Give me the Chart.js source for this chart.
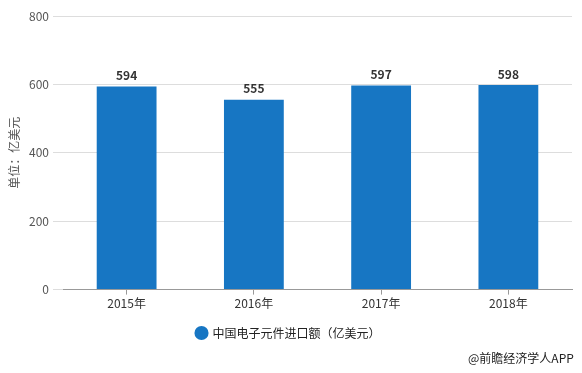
<!DOCTYPE html>
<html><head><meta charset="utf-8">
<script src="https://cdn.jsdelivr.net/npm/chart.js@4/dist/chart.umd.min.js"></script>
<style>
html,body{margin:0;padding:0;background:#fff;}
#wrap{position:relative;width:582px;height:373px;}
#wm{position:absolute;left:468px;top:349px;font:12px "Noto Sans CJK SC",sans-serif;color:#222;white-space:nowrap;}
</style></head>
<body>
<div id="wrap"><canvas id="c" width="582" height="373"></canvas><div id="wm">@前瞻经济学人APP</div></div>
<script>
const categories = ["2015年","2016年","2017年","2018年"];
const importValues = [594,555,597,598];
const seriesName = "中国电子元件进口额（亿美元）";
const yTitle = "单位：亿美元";
const FONT = '"Noto Sans CJK SC", "Noto Sans", sans-serif';

const valueLabels = {
  id:'valueLabels',
  afterDatasetsDraw(chart){
    const ctx = chart.ctx;
    const meta = chart.getDatasetMeta(0);
    ctx.save();
    ctx.font = 'bold 12px ' + FONT;
    ctx.fillStyle = '#333';
    ctx.textAlign = 'center';
    ctx.textBaseline = 'bottom';
    meta.data.forEach((bar,i)=>{
      ctx.fillText(String(chart.data.datasets[0].data[i]), bar.x, bar.y - 5);
    });
    ctx.restore();
  }
};

new Chart(document.getElementById('c'),{
  type:'bar',
  data:{labels:categories,datasets:[{label:seriesName,data:importValues,backgroundColor:'#1776c3',borderWidth:0,categoryPercentage:1,barPercentage:0.47}]},
  options:{
    responsive:false,animation:false,
    layout:{padding:{left:5,right:10,top:16,bottom:24}},
    plugins:{
      tooltip:{enabled:false},
      legend:{position:'bottom',labels:{usePointStyle:true,pointStyle:'circle',boxWidth:10,boxHeight:10,color:'#222',font:{family:FONT,size:12},padding:14}}
    },
    scales:{
      x:{
        grid:{drawOnChartArea:false,drawTicks:true,tickLength:5,offset:false,color:'#999'},
        border:{color:'#999'},
        ticks:{color:'#333',font:{family:FONT,size:12},padding:2}
      },
      y:{
        min:0,max:800,
        ticks:{stepSize:200,color:'#555',font:{family:FONT,size:12},padding:4},
        grid:{color:'#ddd',tickLength:10,drawTicks:true},
        border:{display:false},
        title:{display:true,text:yTitle,color:'#555',font:{family:FONT,size:12},padding:2},
        afterFit(s){s.width=58;}
      }
    }
  },
  plugins:[valueLabels]
});
</script>
</body></html>
